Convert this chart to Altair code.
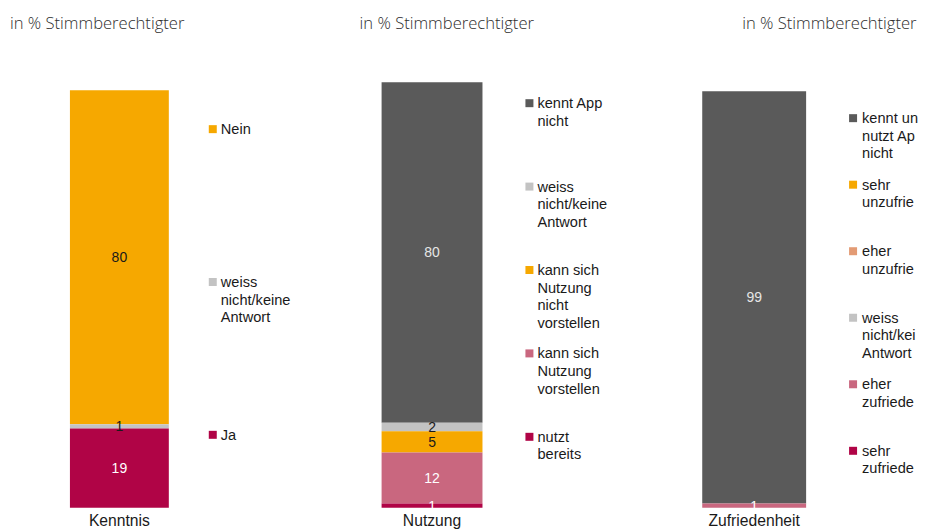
import altair as alt
import pandas as pd

HEADER = "in % Stimmberechtigter"
FONT = "Liberation Sans"
HEADER_FONT = "Open Sans"

# ---- Panel 1: Kenntnis (listed top to bottom of the stack) ----
k_panel = "Kenntnis"
k_cats = ["Nein", "weiss nicht/keine Antwort", "Ja"]
k_labels = ["Nein", "weiss\nnicht/keine\nAntwort", "Ja"]
k_vals = [80, 1, 19]
k_colors = ["#f6a800", "#c3c3c3", "#b00446"]
k_textcol = ["#1a1a1a", "#1a1a1a", "#ffffff"]

# ---- Panel 2: Nutzung ----
n_panel = "Nutzung"
n_cats = ["kennt App nicht", "weiss nicht/keine Antwort",
          "kann sich Nutzung nicht vorstellen", "kann sich Nutzung vorstellen",
          "nutzt bereits"]
n_labels = ["kennt App\nnicht", "weiss\nnicht/keine\nAntwort",
            "kann sich\nNutzung\nnicht\nvorstellen", "kann sich\nNutzung\nvorstellen",
            "nutzt\nbereits"]
n_vals = [80, 2, 5, 12, 1]
n_colors = ["#5a5a5a", "#c3c3c3", "#f6a800", "#c9677f", "#b00446"]
n_textcol = ["#e6e6e6", "#1a1a1a", "#1a1a1a", "#ffffff", "#ffffff"]

# ---- Panel 3: Zufriedenheit ----
z_panel = "Zufriedenheit"
z_cats = ["kennt und nutzt App nicht", "sehr unzufrieden", "eher unzufrieden",
          "weiss nicht/keine Antwort", "eher zufrieden", "sehr zufrieden"]
z_labels = ["kennt und\nnutzt App\nnicht", "sehr\nunzufrieden", "eher\nunzufrieden",
            "weiss\nnicht/keine\nAntwort", "eher\nzufrieden", "sehr\nzufrieden"]
z_vals = [99, 0, 0, 0, 1, 0]
z_colors = ["#5a5a5a", "#f6a800", "#e39b74", "#c3c3c3", "#c9677f", "#b00446"]
z_textcol = ["#e6e6e6", "#1a1a1a", "#1a1a1a", "#1a1a1a", "#ffffff", "#ffffff"]


def make_df(panel, cats, labels, vals, colors, tcols):
    n = len(cats)
    return pd.DataFrame({
        "panel": [panel] * n,
        "cat": cats,
        "label": labels,
        "value": vals,
        "color": colors,
        "tcol": tcols,
        "rank": [n - 1 - i for i in range(n)],
    })


def bar_panel(df, bar_w, ymax, title_dx):
    base = alt.Chart(df).transform_stack(
        stack="value", groupby=["panel"], as_=["y0", "y1"],
        sort=[alt.SortField("rank", order="ascending")],
    ).transform_calculate(mid="(datum.y0 + datum.y1) / 2")
    x = alt.X("panel:N", title=None,
              scale=alt.Scale(paddingInner=0, paddingOuter=0),
              axis=alt.Axis(labelAngle=0, ticks=False, tickSize=0, domain=False,
                            labelFontSize=15.7, labelFont=FONT, labelColor="#1a1a1a",
                            labelPadding=6))
    yscale = alt.Scale(domain=[0, ymax], nice=False)
    bars = base.mark_bar().encode(
        x=x,
        y=alt.Y("y0:Q", scale=yscale, axis=None),
        y2="y1:Q",
        color=alt.Color("color:N", scale=None),
    )
    txt = base.transform_filter("datum.value > 0").mark_text(
        fontSize=14, font=FONT, baseline="middle", align="center", dy=1
    ).encode(
        x=x,
        y=alt.Y("mid:Q", scale=yscale, axis=None),
        text=alt.Text("value:Q"),
        color=alt.Color("tcol:N", scale=None),
    )
    return alt.layer(bars, txt).properties(
        width=bar_w, height=426,
        title=alt.TitleParams(HEADER, anchor="start", dx=title_dx, offset=50,
                              fontSize=16.6, font=HEADER_FONT, fontWeight=300,
                              color="#2e2e2e"),
    )


def legend_panel(df, cats, yrange, sq_x, tx_x, width, limit=0):
    y = alt.Y("cat:N", sort=cats, axis=None, title=None,
              scale=alt.Scale(type="point", range=yrange, padding=0))
    sq = alt.Chart(df).mark_square(size=64, filled=True, opacity=1).encode(
        x=alt.value(sq_x), y=y, color=alt.Color("color:N", scale=None))
    tx = alt.Chart(df).mark_text(
        align="left", baseline="top", dy=-7, fontSize=14.6, font=FONT,
        lineBreak="\n", lineHeight=17.6, color="#1a1a1a",
        limit=limit, ellipsis="\u200b"
    ).encode(x=alt.value(tx_x), y=y, text="label:N")
    return alt.layer(sq, tx).properties(width=width, height=426)


k_df = make_df(k_panel, k_cats, k_labels, k_vals, k_colors, k_textcol)
n_df = make_df(n_panel, n_cats, n_labels, n_vals, n_colors, n_textcol)
z_df = make_df(z_panel, z_cats, z_labels, z_vals, z_colors, z_textcol)

chart = alt.hconcat(
    bar_panel(k_df, 99, 101.9, -60),
    legend_panel(k_df, k_cats, [47, 353], 4, 12, 133),
    bar_panel(n_df, 101, 100, -22),
    legend_panel(n_df, n_cats, [21, 355], 7, 15, 140),
    bar_panel(z_df, 104, 102.2, 40),
    legend_panel(z_df, z_cats, [36, 369], 7, 16, 73, limit=57),
    spacing=40,
    bounds="flush",
).properties(
    padding={"left": 2, "top": 7, "right": 0, "bottom": 0},
).configure_view(stroke=None)

chart.save("out.html", embed_options={"renderer": "svg", "actions": False})
